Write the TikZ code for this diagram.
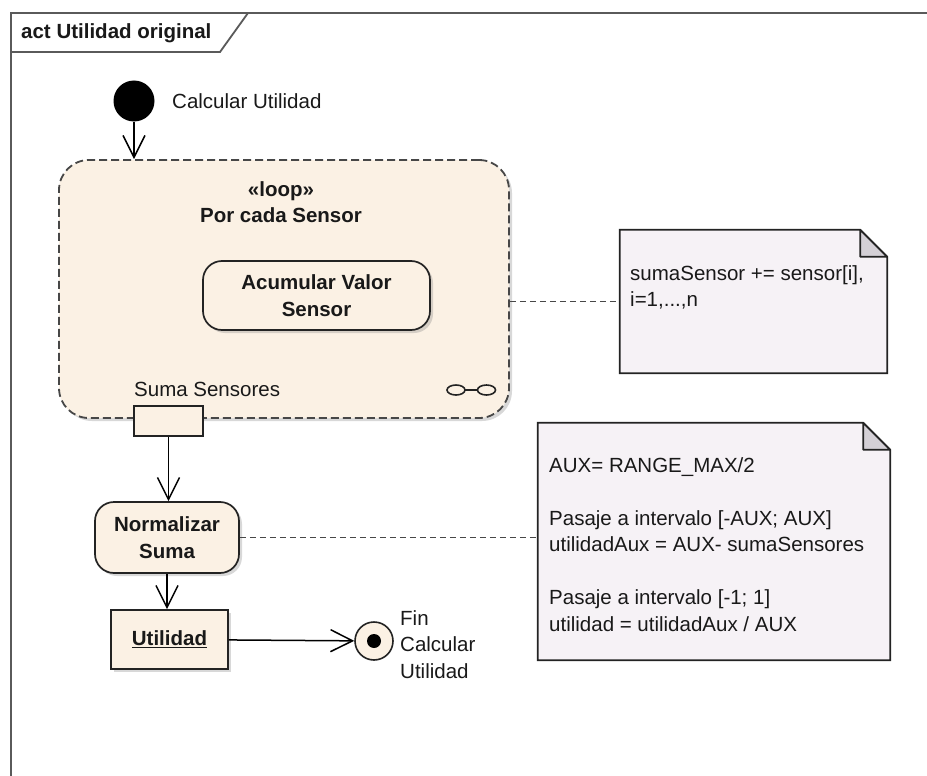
\documentclass[tikz,border=0pt]{standalone}
\usepackage{fontspec}
\setmainfont{Liberation Sans}
\usetikzlibrary{arrows.meta,shadows,calc}
\definecolor{actfill}{RGB}{251,241,228}
\definecolor{notefill}{RGB}{246,242,246}
\definecolor{foldfill}{RGB}{212,208,214}
\definecolor{edgec}{RGB}{35,35,35}
\definecolor{framec}{RGB}{90,90,90}
\definecolor{txt}{RGB}{25,25,25}
\newcommand\dgfont{\fontsize{20.5}{26.5}\selectfont}
\begin{document}
\begin{tikzpicture}[x=1pt,y=-1pt,
  lbl/.style={font=\dgfont, text=txt, inner sep=0pt},
  blbl/.style={font=\dgfont\bfseries, text=txt, inner sep=0pt},
  sh/.style={drop shadow={shadow xshift=3pt,shadow yshift=-3pt,opacity=0.3}},
  action/.style={draw=edgec, line width=1.7pt, fill=actfill, rounded corners=19pt, sh,
    font=\dgfont\bfseries, text=txt, align=center, inner sep=0pt},
  region/.style={draw=black!72, line width=1.8pt, dash pattern=on 8pt off 4pt,
    fill=actfill, rounded corners=30pt, sh},
  pinbox/.style={draw=edgec, line width=1.7pt, fill=actfill},
  objbox/.style={draw=edgec, line width=1.7pt, fill=actfill, sh,
    font=\dgfont\bfseries, text=txt, inner sep=0pt},
  notebody/.style={draw=none, inner sep=0pt},
  noteshape/.style={draw=edgec, line width=1.7pt, fill=notefill},
  foldshape/.style={draw=edgec, line width=1.7pt, fill=foldfill, line join=round},
  flow/.style={draw=black, line width=1.5pt, -{Straight Barb[length=22pt,width=22pt]}},
  notelink/.style={draw=black!72, line width=1.8pt, dash pattern=on 6pt off 4pt},
  framestyle/.style={draw=framec, line width=1.8pt},
]
\fill[white] (0,0) rectangle (927,776);
\useasboundingbox (0,0) rectangle (927,776);
\clip (0,0) rectangle (927,776);

% diagram frame and its title tab
\draw[framestyle] (11,800) -- (11,13) -- (950,13);
\draw[framestyle] (11,52) -- (220,52) -- (248,13);
\node[blbl, anchor=base west] (title) at (21,39) {act Utilidad original};

% initial node
\node[circle, fill=black, minimum size=41pt, inner sep=0pt] (start) at (134,101) {};
\node[lbl, anchor=base west] (startlbl) at (172,108) {Calcular Utilidad};

% loop region
\node[region, minimum width=450pt, minimum height=258pt] (loop) at (284,289) {};
\node[blbl, align=center, anchor=north] (looplbl) at (281,177.5) {\strut«loop»\\Por cada Sensor};
\node[action, minimum width=227pt, minimum height=69pt] (acc) at (316.5,295.5) {Acumular Valor\\Sensor};
\node[lbl, anchor=base west] (pinlbl) at (134,396) {Suma Sensores};
\draw[edgec, line width=1.6pt] (456,390) ellipse [x radius=9, y radius=5]
  (486.5,390) ellipse [x radius=9, y radius=5]
  (465,390) -- (477.5,390);
\node[pinbox, minimum width=69pt, minimum height=30pt] (pin) at (168.5,421) {};

% actions after the loop
\node[action, minimum width=144pt, minimum height=71pt] (norm) at (167,537.5) {Normalizar\\Suma};
\node[objbox, minimum width=117pt, minimum height=59pt] (util) at (169.5,639.5) {\underline{Utilidad}};

% final node
\node[circle, draw=edgec, line width=1.6pt, fill=actfill, minimum size=38pt, inner sep=0pt] (final) at (374,641) {};
\node[circle, fill=black, minimum size=14pt, inner sep=0pt] (finaldot) at (final.center) {};
\node[lbl, align=left, anchor=north west] (finallbl) at (400,606.5) {\strut Fin\\Calcular\\Utilidad};

% note for the loop
\node[notebody, minimum width=267pt, minimum height=143pt] (n1) at (753.5,301.5) {};
\path[noteshape] (n1.north west) -- ([xshift=-27pt]n1.north east) -- ([yshift=-27pt]n1.north east)
  -- (n1.south east) -- (n1.south west) -- cycle;
\path[foldshape] ([xshift=-27pt]n1.north east) -- ([xshift=-27pt,yshift=-27pt]n1.north east)
  -- ([yshift=-27pt]n1.north east) -- cycle;
\node[lbl, align=left, anchor=north west] (n1txt) at (630,261.5) {\strut sumaSensor += sensor[i],\\i=1,...,n};

% note for the normalization
\node[notebody, minimum width=352pt, minimum height=237pt] (n2) at (714,541.5) {};
\path[noteshape] (n2.north west) -- ([xshift=-27pt]n2.north east) -- ([yshift=-27pt]n2.north east)
  -- (n2.south east) -- (n2.south west) -- cycle;
\path[foldshape] ([xshift=-27pt]n2.north east) -- ([xshift=-27pt,yshift=-27pt]n2.north east)
  -- ([yshift=-27pt]n2.north east) -- cycle;
\node[lbl, align=left, anchor=north west] (n2txt) at (549,453.5)
  {\strut AUX= RANGE\_MAX/2\\[26.5pt]Pasaje a intervalo [-AUX; AUX]\\utilidadAux = AUX- sumaSensores\\[26.5pt]Pasaje a intervalo [-1; 1]\\utilidad = utilidadAux / AUX};

% control flows
\draw[flow] (start.south) -- (start.south |- loop.north);
\draw[flow] (pin.south) -- (pin.south |- norm.north);
\draw[flow] (norm.south) -- (norm.south |- util.north);
\draw[flow] (util) -- (final);

% note anchors
\draw[notelink] (loop.east |- n1.west) -- (n1.west);
\draw[notelink] (norm.east) -- (norm.east -| n2.west);
\end{tikzpicture}
\end{document}
